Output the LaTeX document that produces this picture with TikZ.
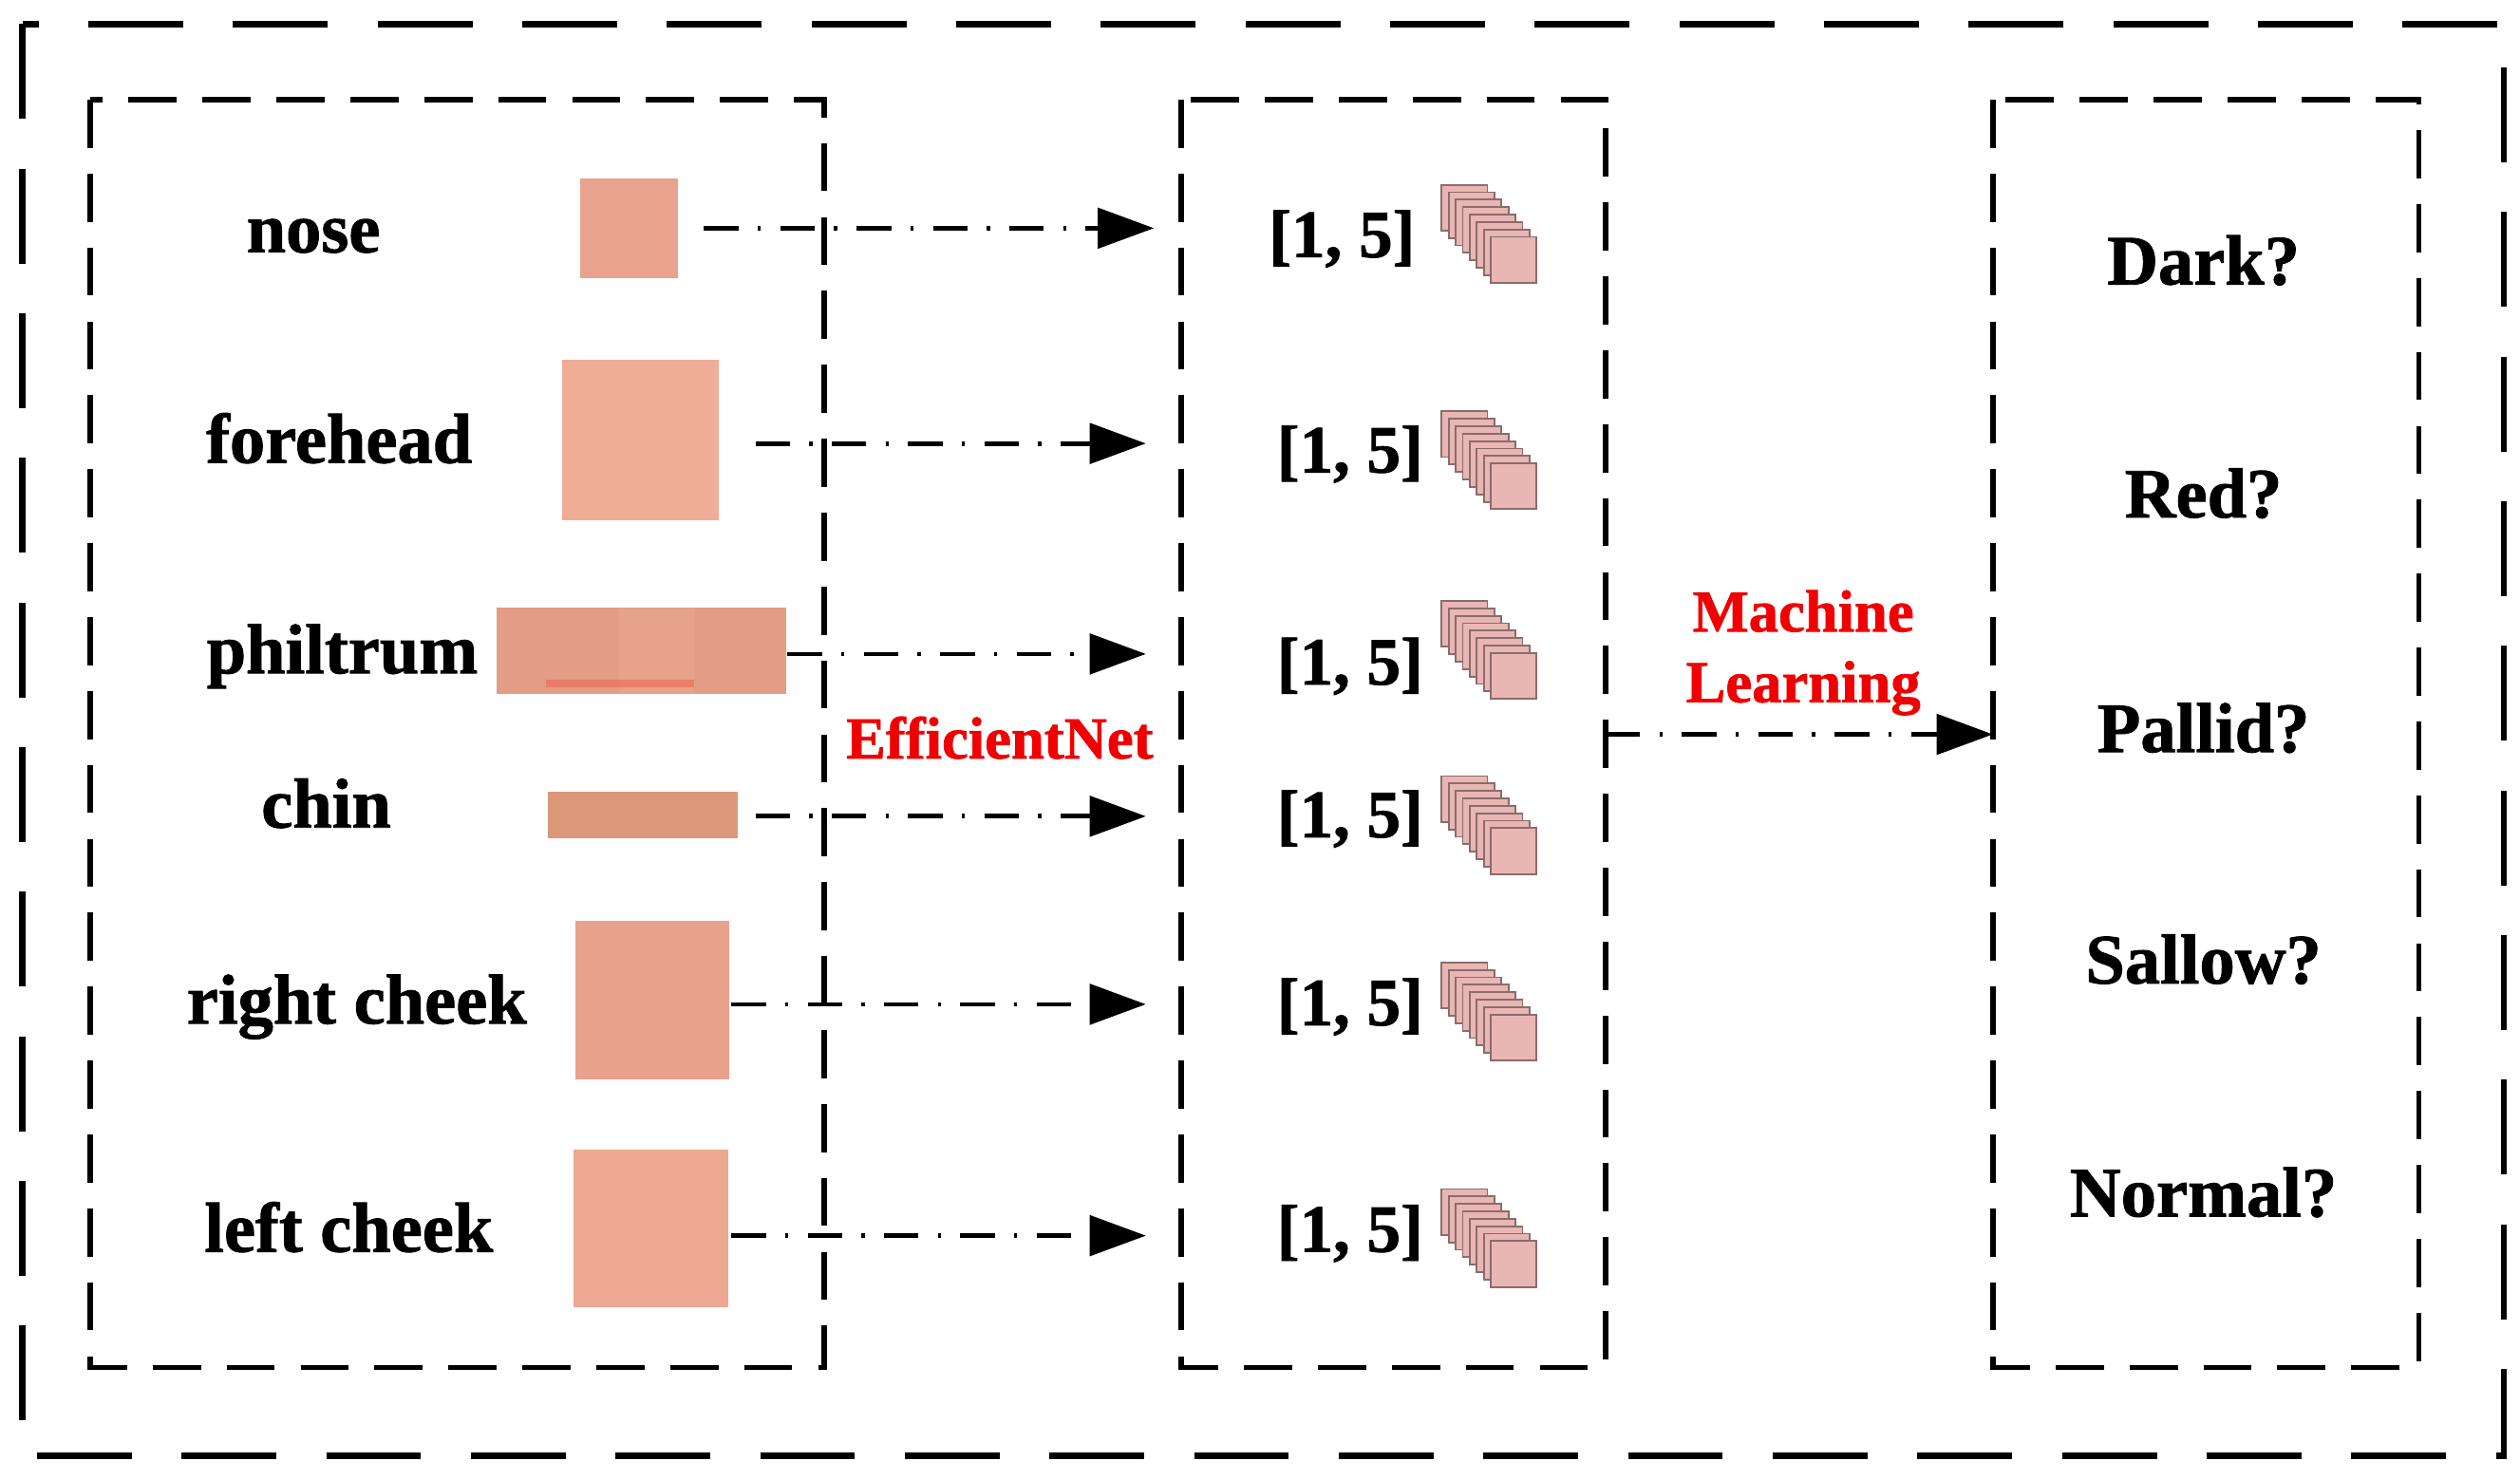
\documentclass[tikz,border=0pt]{standalone}
\usepackage{fontspec}
\setmainfont{Liberation Serif}[BoldFeatures={FakeBold=1.2}]
\usetikzlibrary{arrows.meta}
\definecolor{skinA}{HTML}{E9A28D}
\definecolor{skinB}{HTML}{F0AD96}
\definecolor{skinC}{HTML}{E39D86}
\definecolor{skinD}{HTML}{DB9879}
\definecolor{skinE}{HTML}{E8A18B}
\definecolor{skinF}{HTML}{EDA892}
\definecolor{fmfill}{HTML}{E8B6B3}
\definecolor{fmedge}{HTML}{8C6B6B}
\definecolor{lblred}{HTML}{F00000}
\begin{document}
\begin{tikzpicture}[x=1pt,y=-1pt,
  outerframe/.style={line width=4pt, dash pattern=on 59pt off 31pt},
  groupbox/.style={line width=3.4pt, dash pattern=on 30pt off 16pt},
  lbl/.style={font=\fontsize{44}{50}\selectfont\bfseries, inner sep=0pt, anchor=base},
  dimlbl/.style={font=\fontsize{42}{48}\selectfont\bfseries, inner sep=0pt, anchor=base},
  redlbl/.style={font=\fontsize{37}{42}\selectfont\bfseries, text=lblred, inner sep=0pt, anchor=base},
  patch/.style={draw=none, inner sep=0pt, minimum width=#1},
  fsq/.style={draw=fmedge, fill=fmfill, line width=1.1pt, minimum size=28.5pt, inner sep=0pt},
  flow/.style={line width=2.8pt, dash pattern=on 21.5pt off 12pt on 2pt off 12pt,
    -{Triangle[length=35pt,width=25pt]}}
]
\useasboundingbox (0,0) rectangle (1568,921);

% frames
\draw[outerframe] (14,15) rectangle (1558,906);
\draw[groupbox] (56,62) rectangle (513,851);
\draw[groupbox] (735,62) rectangle (999,851);
\draw[groupbox] (1240,62) rectangle (1505,851);

% region labels
\node[lbl] (lnose) at (195,157) {nose};
\node[lbl] (lforehead) at (211,288) {forehead};
\node[lbl] (lphiltrum) at (213,419) {philtrum};
\node[lbl] (lchin) at (203,515) {chin};
\node[lbl] (lrcheek) at (222,637) {right cheek};
\node[lbl] (llcheek) at (217,779) {left cheek};

% skin patches
\node[patch=61pt, minimum height=62pt, fill=skinA] (pnose) at (391.5,142) {};
\node[patch=97pt, minimum height=100pt, fill=skinB] (pforehead) at (398.5,274) {};
\node[patch=180pt, minimum height=54pt, fill=skinC] (pphiltrum) at (399,405) {};
\fill[skinB, opacity=0.35] (385,378) rectangle (432,432);
\fill[red!25!skinC, opacity=0.8] (340,423) rectangle (432,428);
\node[patch=118.5pt, minimum height=29pt, fill=skinD] (pchin) at (400,507) {};
\node[patch=96pt, minimum height=99pt, fill=skinE] (prcheek) at (406,622.5) {};
\node[patch=96pt, minimum height=98pt, fill=skinF] (plcheek) at (405,764.6) {};

% feature vectors
\node[dimlbl] (d1) at (835,160) {[1, 5]};
\node[dimlbl] (d2) at (840,294) {[1, 5]};
\node[dimlbl] (d3) at (840,426) {[1, 5]};
\node[dimlbl] (d4) at (840,521) {[1, 5]};
\node[dimlbl] (d5) at (840,638) {[1, 5]};
\node[dimlbl] (d6) at (840,779) {[1, 5]};

% feature-map stacks
\foreach \r/\t in {1/115, 2/256, 3/374, 4/483, 5/599, 6/740}{
  \foreach \i in {0,...,7}{
    \node[fsq] (fm\r-\i) at ({911.25+4.37*\i},{\t+14.25+4.63*\i}) {};
  }
}

% outcome labels
\node[lbl] (cdark) at (1371,177) {Dark?};
\node[lbl] (cred) at (1371,322) {Red?};
\node[lbl] (cpallid) at (1371,468) {Pallid?};
\node[lbl] (csallow) at (1371,612) {Sallow?};
\node[lbl] (cnormal) at (1371,757) {Normal?};

% method labels
\node[redlbl] (effnet) at (622,472) {EfficientNet};
\node[redlbl] (ml1) at (1122,393) {Machine};
\node[redlbl] (ml2) at (1122,437) {Learning};

% connector end points
\coordinate (s1) at (438,142); \coordinate (e1) at (718,142);
\coordinate (s2) at (470,276); \coordinate (e2) at (713,276);
\coordinate (s3) at (490,407); \coordinate (e3) at (713,407);
\coordinate (s4) at (470,508); \coordinate (e4) at (713,508);
\coordinate (s5) at (455,625); \coordinate (e5) at (713,625);
\coordinate (s6) at (455,769); \coordinate (e6) at (713,769);
\coordinate (mls) at (999,457); \coordinate (mle) at (1240,457);

\draw[flow] (s1) -- (e1);
\draw[flow] (s2) -- (e2);
\draw[flow] (s3) -- (e3);
\draw[flow] (s4) -- (e4);
\draw[flow] (s5) -- (e5);
\draw[flow] (s6) -- (e6);
\draw[flow] (mls) -- (mle);
\end{tikzpicture}
\end{document}
